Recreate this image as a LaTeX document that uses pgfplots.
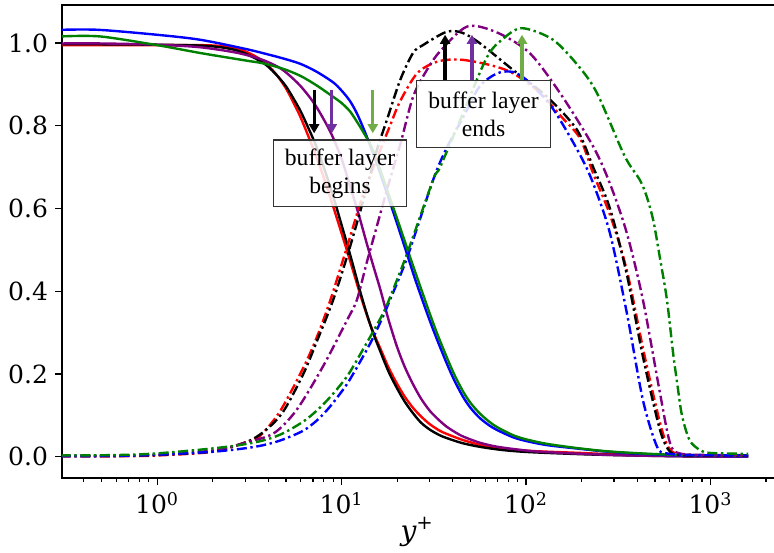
\documentclass[border=0pt]{standalone}
\usepackage{pgfplots}
\pgfplotsset{compat=1.18}
\usepackage{fontspec}
\setmainfont{DejaVu Serif}
\newfontfamily\tnr{Liberation Serif}
\usetikzlibrary{arrows.meta}
\definecolor{cgreen}{RGB}{0,128,0}
\definecolor{cpurple}{RGB}{128,0,128}
\definecolor{agreen}{RGB}{112,173,71}
\definecolor{apurple}{RGB}{112,48,160}
\begin{document}
\begin{tikzpicture}
\begin{axis}[
  scale only axis, width=370pt, height=236.5pt,
  xmode=log, xmin=0.305, xmax=3133, ymin=-0.0515, ymax=1.092,
  xtick={1,10,100,1000},
  xticklabels={10\textsuperscript{0},10\textsuperscript{1},10\textsuperscript{2},10\textsuperscript{3}},
  minor xtick={0.4,0.5,0.6,0.7,0.8,0.9,2,3,4,5,6,7,8,9,20,30,40,50,60,70,80,90,200,300,400,500,600,700,800,900,2000,3000},
  ytick={0,0.2,0.4,0.6,0.8,1.0},
  yticklabel style={/pgf/number format/.cd,fixed,fixed zerofill,precision=1},
  /pgf/number format/assume math mode=true,
  tick label style={font=\fontsize{12.5}{15}\selectfont},
  xtick pos=left, ytick pos=left,
  tick align=outside,
  major tick length=3.5pt, minor tick length=2pt,
  every tick/.style={black, line width=0.6pt},
  axis line style={line width=0.6pt},
  xlabel={{\itshape y}\textsuperscript{+}},
  xlabel style={font=\fontsize{14}{16}\selectfont, at={(axis description cs:0.48,0)}, anchor=base, yshift=-31pt},
  every axis plot/.append style={line width=1.2pt, smooth},
]
% ---- solid curves
\addplot[red] coordinates {(0.3,0.995)(0.5,0.995)(1,0.995)(1.7,0.995)(2.2,0.993)(2.6,0.988)(3.0,0.98)(3.5,0.965)(3.95,0.948)(4.5,0.92)(5.0,0.89)(5.5,0.855)(6.0,0.82)(6.6,0.775)(7.3,0.725)(8.0,0.675)(9.0,0.605)(10,0.54)(10.7,0.498)(11.5,0.452)(12.6,0.393)(13.7,0.343)(14.8,0.302)(16.2,0.262)(18,0.215)(20,0.176)(22,0.145)(24.4,0.118)(27,0.097)(30.2,0.078)(34,0.063)(37.2,0.055)(45,0.041)(56,0.029)(75,0.02)(105,0.014)(200,0.009)(297,0.006)(700,0.003)(1600,0.001)};
\addplot[black] coordinates {(0.3,0.997)(0.5,0.997)(1,0.996)(1.7,0.994)(2.2,0.99)(2.6,0.984)(3.0,0.975)(3.5,0.96)(3.95,0.945)(4.5,0.92)(5.0,0.895)(5.5,0.865)(6.0,0.835)(6.6,0.795)(7.3,0.75)(8.0,0.70)(9.0,0.63)(10,0.56)(10.7,0.515)(11.5,0.465)(12.6,0.40)(13.7,0.345)(14.8,0.30)(16.2,0.255)(18,0.205)(20,0.165)(22,0.133)(24.4,0.105)(27,0.082)(30.2,0.065)(34,0.052)(37.2,0.045)(45,0.033)(56,0.024)(75,0.016)(105,0.011)(200,0.006)(297,0.004)(700,0.001)(1600,0.0)};
\addplot[cpurple] coordinates {(0.3,0.999)(0.5,0.999)(1,0.996)(1.7,0.99)(2.6,0.978)(3.3,0.967)(3.95,0.955)(4.8,0.935)(5.96,0.897)(7.2,0.85)(8.7,0.785)(10,0.72)(11.1,0.655)(12.3,0.59)(13.7,0.515)(15,0.455)(16.2,0.405)(18,0.33)(20,0.265)(22,0.217)(24.4,0.175)(27,0.14)(30.2,0.11)(34,0.087)(37,0.073)(41,0.06)(45.5,0.049)(56,0.034)(70,0.024)(100,0.015)(130,0.011)(297,0.004)(700,0.001)(1600,0.0)};
\addplot[blue] coordinates {(0.3,1.032)(0.48,1.032)(1,1.02)(1.71,1.008)(3,0.986)(3.95,0.973)(4.8,0.963)(5.96,0.950)(7.3,0.931)(9,0.905)(10,0.885)(11.1,0.86)(12.1,0.83)(13.1,0.795)(14.5,0.745)(16,0.692)(18.3,0.615)(20.8,0.54)(23,0.48)(25,0.43)(27.6,0.375)(30,0.33)(32.8,0.285)(37.2,0.225)(41,0.183)(45.5,0.145)(50,0.118)(56,0.094)(63,0.076)(70,0.064)(85,0.047)(100,0.038)(130,0.028)(196,0.019)(297,0.011)(600,0.004)(1600,0.001)};
\addplot[cgreen] coordinates {(0.3,1.016)(0.49,1.016)(1,0.995)(1.71,0.976)(3,0.958)(3.75,0.951)(4.8,0.938)(5.96,0.921)(7.3,0.898)(9,0.87)(10,0.855)(11.1,0.835)(12.1,0.81)(13.1,0.785)(14.5,0.75)(16,0.70)(18.3,0.625)(20.8,0.553)(23,0.495)(25,0.448)(27.6,0.393)(30,0.347)(32.8,0.30)(37.2,0.24)(41,0.197)(45.5,0.158)(50,0.13)(56,0.105)(63,0.085)(70,0.071)(85,0.052)(100,0.042)(130,0.031)(196,0.02)(297,0.012)(600,0.005)(1600,0.002)};
% ---- dash-dot curves
\pgfplotsset{dd/.style={dash pattern=on 5pt off 1.8pt on 1.2pt off 1.8pt}}
\addplot[red,dd] coordinates {(0.3,0.001)(0.6,0.001)(1,0.003)(2,0.012)(3.07,0.036)(3.61,0.05)(4.64,0.11)(6.2,0.215)(7.36,0.29)(8.7,0.379)(10.7,0.507)(13,0.63)(15.5,0.72)(18.3,0.80)(20.8,0.86)(25.7,0.927)(33,0.955)(43.9,0.96)(63.6,0.947)(85,0.927)(119,0.88)(153,0.825)(196,0.77)(231,0.685)(285,0.585)(352,0.45)(440,0.242)(545,0.065)(620,0.012)(800,0.004)(1600,0.003)};
\addplot[black,dd] coordinates {(0.3,0.002)(0.6,0.002)(1,0.004)(2,0.013)(3.07,0.036)(3.9,0.065)(4.84,0.11)(6.2,0.20)(7.36,0.28)(9.0,0.379)(11.1,0.507)(13.5,0.64)(15.5,0.74)(17.6,0.814)(20.8,0.911)(24.4,0.976)(27.6,0.995)(37,1.027)(45,1.025)(56,1.0)(85,0.935)(130,0.87)(189,0.79)(231,0.70)(285,0.60)(352,0.44)(430,0.242)(532,0.065)(603,0.012)(700,0.004)(1000,0.003)(1600,0.003)};
\addplot[cpurple,dd] coordinates {(0.3,0.002)(0.6,0.002)(1,0.005)(2,0.015)(3.07,0.035)(4.3,0.057)(5.7,0.113)(7.9,0.217)(10.7,0.33)(12.1,0.379)(13.7,0.47)(15.5,0.556)(18,0.66)(20.8,0.755)(24.4,0.87)(29,0.935)(34.2,0.98)(48,1.04)(70,1.025)(105,0.975)(155,0.875)(231,0.75)(285,0.66)(352,0.54)(430,0.379)(532,0.154)(603,0.033)(680,0.008)(1000,0.004)(1600,0.004)};
\addplot[blue,dd] coordinates {(0.3,0.001)(0.6,0.002)(1,0.005)(2,0.012)(3.07,0.021)(3.95,0.03)(4.84,0.042)(6.2,0.063)(7.36,0.088)(8.5,0.117)(9.8,0.152)(11.1,0.187)(14.3,0.274)(16.8,0.34)(18.3,0.379)(22.6,0.48)(31.4,0.67)(37,0.745)(45.5,0.82)(56,0.895)(70,0.927)(85,0.93)(101,0.91)(130,0.86)(153,0.814)(196,0.73)(231,0.661)(285,0.54)(352,0.347)(430,0.137)(513,0.024)(580,0.008)(800,0.004)(1600,0.003)};
\addplot[cgreen,dd] coordinates {(0.3,0.003)(0.6,0.004)(1,0.008)(2,0.02)(3.07,0.031)(3.95,0.042)(4.84,0.057)(6.2,0.085)(7.36,0.112)(8.5,0.14)(9.8,0.172)(11.1,0.205)(14.3,0.29)(16.8,0.347)(18.3,0.385)(22.6,0.49)(31.4,0.67)(34.2,0.70)(45.5,0.83)(61.4,0.966)(75,1.01)(95,1.036)(140,1.008)(196,0.94)(243,0.878)(324,0.75)(359,0.71)(415,0.668)(450,0.63)(490,0.57)(532,0.48)(580,0.38)(627,0.25)(660,0.177)(700,0.10)(770,0.04)(877,0.016)(1000,0.009)(1600,0.007)};
% ---- arrows
\draw[black,line width=1.6pt,-{Triangle[width=5pt,length=4.5pt]}] (axis cs:7.1,0.887) -- (axis cs:7.1,0.782);
\draw[apurple,line width=1.6pt,-{Triangle[width=5pt,length=4.5pt]}] (axis cs:8.85,0.887) -- (axis cs:8.85,0.782);
\draw[agreen,line width=1.6pt,-{Triangle[width=5pt,length=4.5pt]}] (axis cs:14.76,0.887) -- (axis cs:14.76,0.782);
\draw[black,line width=1.6pt,-{Triangle[width=5pt,length=4.5pt]}] (axis cs:36.4,0.909) -- (axis cs:36.4,1.02);
\draw[apurple,line width=1.6pt,-{Triangle[width=5pt,length=4.5pt]}] (axis cs:50.9,0.909) -- (axis cs:50.9,1.02);
\draw[agreen,line width=1.6pt,-{Triangle[width=5pt,length=4.5pt]}] (axis cs:95.1,0.909) -- (axis cs:95.1,1.02);
% ---- boxes
\node[draw=black!80, line width=0.6pt, fill=white, fill opacity=0.85, text opacity=1, minimum width=66.7pt, minimum height=33.3pt, align=center, inner sep=1pt, font=\tnr\fontsize{11.8}{14}\selectfont] at (axis cs:9.81,0.685) {buffer layer\\begins};
\node[draw=black!80, line width=0.6pt, fill=white, fill opacity=0.85, text opacity=1, minimum width=67pt, minimum height=33.5pt, align=center, inner sep=1pt, font=\tnr\fontsize{11.8}{14}\selectfont] at (axis cs:58.85,0.828) {buffer layer\\ends};
\end{axis}
\pgfresetboundingbox
\useasboundingbox (-31pt,-37pt) rectangle (356pt,239pt);
\end{tikzpicture}
\end{document}
